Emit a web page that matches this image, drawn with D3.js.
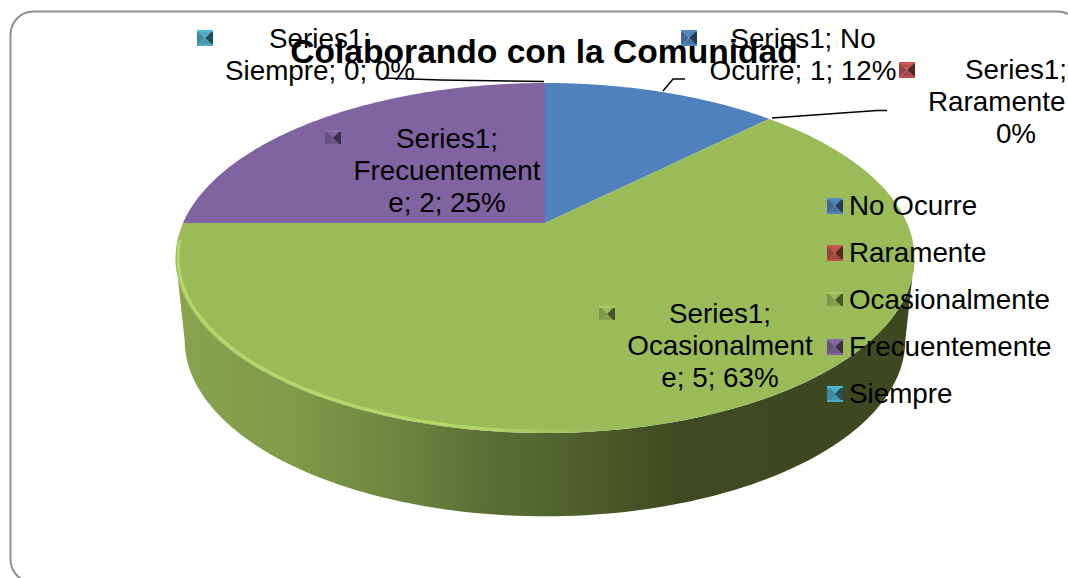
<!DOCTYPE html>
<html><head><meta charset="utf-8">
<script src="https://cdn.jsdelivr.net/npm/d3@7/dist/d3.min.js"></script>
<style>
html,body{margin:0;padding:0;background:#fff;overflow:hidden}
text{font-family:"Liberation Sans",Arial,sans-serif;fill:#000}
</style></head><body>
<svg id="c" width="1068" height="578"></svg>
<script>
const categories = ["No Ocurre","Raramente","Ocasionalmente","Frecuentemente","Siempre"];
const values = [1,0,5,2,0];
const colors = ["#4f81bd","#c0504d","#9bbb59","#8064a2","#4bacc6"];
const chartTitle = "Colaborando con la Comunidad";
const labelLines = [
  ["Series1; No","Ocurre; 1; 12%"],
  ["Series1;","Raramente","0%"],
  ["Series1;","Ocasionalment","e; 5; 63%"],
  ["Series1;","Frecuentement","e; 2; 25%"],
  ["Series1;","Siempre; 0; 0%"]
];
// layout, by category index
const labelCentre = [[803,48],[1016,79],[720,323],[447,148],[320,48]];
const labelKey = [[681,30],[899,62],[599,306],[325,130],[197,30]];
const leaders = [
  [[663,91],[673,79],[685,79]],
  [[772,118],[877,110.5],[887,110.5]],
  null,null,
  [[384,78],[440,80],[544,81.5]]
];

const svg = d3.select("#c");
const defs = svg.append("defs");
const FONT = 27.8, LH = 32;

// perspective projection of the unit disc
const K = 0.2, CX = 545;
const proj = (R,S,Y0) => a => {
  const u = Math.sin(a), v = -Math.cos(a), w = 1 - K*v;
  return [CX + R*u/w, Y0 + S*v/w];
};
const topRim = proj(362,168,223), lowRim = proj(353,169,305), hiRim = proj(359.5,166.5,223);
const apex = [CX,223];
const samples = (a0,a1) => d3.range(0,121).map(i => a0+(a1-a0)*i/120);
const line = d3.line();

const arcs = d3.pie().sort(null).value(d=>d)(values);

// frame
svg.append("rect").attr("x",10.5).attr("y",11.5).attr("width",1070).attr("height",571)
  .attr("rx",23).attr("fill","#fff").attr("stroke","#8f8f8f").attr("stroke-width",2);

// side wall of the pie
const sideGrad = defs.append("linearGradient").attr("id","side").attr("gradientUnits","userSpaceOnUse")
  .attr("x1",176).attr("x2",913).attr("y1",0).attr("y2",0);
[[0,"#88a34c"],[0.16,"#80994a"],[0.3,"#6f8540"],[0.42,"#5c6e34"],[0.5,"#55652f"],[0.62,"#465426"],[0.68,"#3f4a22"],[1,"#3d4820"]]
  .forEach(s=>sideGrad.append("stop").attr("offset",s[0]).attr("stop-color",s[1]));
const rimGrad = defs.append("linearGradient").attr("id","rim").attr("gradientUnits","userSpaceOnUse")
  .attr("x1",176).attr("x2",913).attr("y1",0).attr("y2",0);
[[0,"#b4d868",1],[0.42,"#b4d868",1],[0.52,"#a8c862",0.6],[0.62,"#9bbb59",0]]
  .forEach(s=>rimGrad.append("stop").attr("offset",s[0]).attr("stop-color",s[1]).attr("stop-opacity",s[2]));
defs.append("filter").attr("id","soft").attr("x","-5%").attr("y","-5%").attr("width","110%").attr("height","110%")
  .append("feGaussianBlur").attr("stdDeviation",0.7);

const greenArc = arcs[2];
const frontA = Math.max(greenArc.startAngle, Math.acos(-K));
const frontB = Math.min(greenArc.endAngle, 2*Math.PI-Math.acos(-K));
const topFront = samples(frontA,frontB).map(topRim);
const lowFront = samples(frontB,frontA).map(lowRim);
svg.append("path").attr("d",line(topFront.concat(lowFront))+"Z").attr("fill","url(#side)");

// top face
arcs.forEach((d,i)=>{
  if(d.endAngle<=d.startAngle) return;
  const pts = [apex].concat(samples(d.startAngle,d.endAngle).map(topRim));
  svg.append("path").attr("d",line(pts)+"Z").attr("fill",colors[i]);
});
// bevel highlight along the front rim
svg.append("path").attr("d",line(samples(frontA,frontB+0.1).map(hiRim))).attr("fill","none")
  .attr("stroke","url(#rim)").attr("stroke-width",3).attr("filter","url(#soft)");

// title
svg.append("text").attr("x",544).attr("y",63).attr("text-anchor","middle")
  .attr("font-weight","bold").attr("font-size",33.6).text(chartTitle);

// leader lines
leaders.forEach(l=>{ if(l) svg.append("path").attr("d",line(l)).attr("fill","none").attr("stroke","#000").attr("stroke-width",1.5); });

// bevelled key squares
function key(x,y,col){
  const w=16,h=16,c=d3.color(col),mx=x+w/2,my=y+h/2;
  const g=svg.append("g");
  const faces=[
    [[[x,y],[x+w,y],[mx,my]], c.copy()],
    [[[x,y],[x,y+h],[mx,my]], c.darker(0.6)],
    [[[x+w,y],[x+w,y+h],[mx,my]], c.darker(2.2)],
    [[[x,y+h],[x+w,y+h],[mx,my]], c.darker(0.4)]
  ];
  faces.forEach(f=>g.append("path").attr("d",line(f[0])+"Z").attr("fill",f[1]));
  g.append("rect").attr("x",x).attr("y",y).attr("width",w).attr("height",2).attr("fill",c.brighter(0.2));
  g.append("rect").attr("x",x).attr("y",y+h-2).attr("width",w).attr("height",2).attr("fill",c.copy());
}

// data labels
labelLines.forEach((lines,i)=>{
  key(labelKey[i][0],labelKey[i][1],colors[i]);
  lines.forEach((t,j)=>{
    const clippedLine = t==="Raramente";
    svg.append("text").attr("x",clippedLine?928:labelCentre[i][0]).attr("y",labelCentre[i][1]+j*LH)
      .attr("text-anchor",clippedLine?"start":"middle").attr("font-size",FONT).text(t);
  });
});

// legend
const legendY = d3.scalePoint().domain(categories).range([198,386]);
categories.forEach((name,i)=>{
  key(827,legendY(name),colors[i]);
  svg.append("text").attr("x",849).attr("y",legendY(name)+17).attr("font-size",FONT).text(name);
});
</script>
</body></html>
